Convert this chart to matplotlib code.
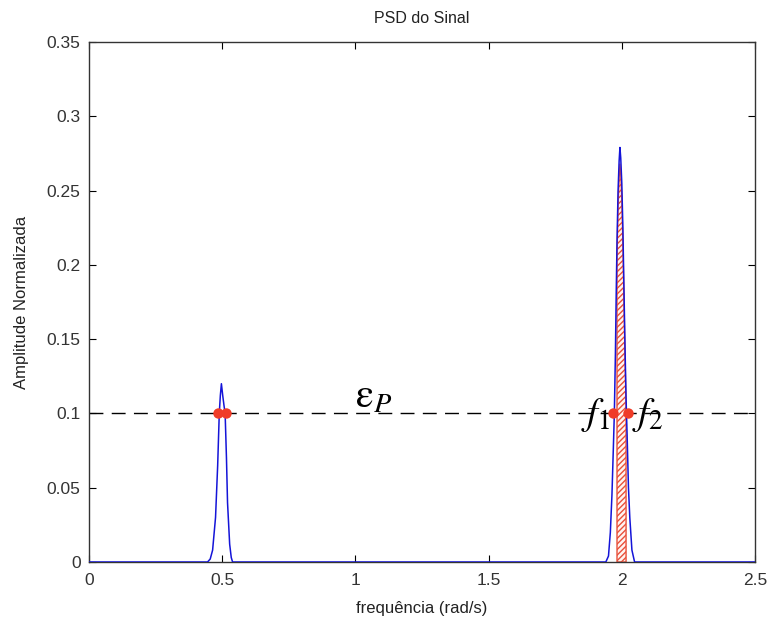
import matplotlib
matplotlib.use("Agg")
import matplotlib.pyplot as plt

plt.rcParams['font.family'] = ['Liberation Sans', 'DejaVu Sans']
plt.rcParams['mathtext.fontset'] = 'stix'
plt.rcParams['hatch.linewidth'] = 1.0

# PSD curve (frequency in rad/s, normalized amplitude)
freq = [0.0, 0.445, 0.455, 0.464, 0.475, 0.483, 0.489, 0.493, 0.497, 0.502,
        0.507, 0.511, 0.516, 0.520, 0.528, 0.534, 0.539,
        1.940, 1.950, 1.957, 1.963, 1.968, 1.972, 1.976, 1.979, 1.982, 1.986,
        1.990, 1.993, 1.996, 2.000, 2.004, 2.008, 2.012, 2.016, 2.020, 2.025,
        2.030, 2.038, 2.048, 2.5]
amp = [0.0, 0.0, 0.002, 0.008, 0.03, 0.065, 0.10, 0.112, 0.12, 0.112,
       0.105, 0.10, 0.07, 0.04, 0.012, 0.003, 0.0,
       0.0, 0.004, 0.02, 0.045, 0.075, 0.10, 0.14, 0.18, 0.215, 0.25,
       0.27, 0.279, 0.272, 0.255, 0.225, 0.185, 0.145, 0.11, 0.085, 0.05,
       0.03, 0.008, 0.0, 0.0]

# hatched band (integration region between f1 and f2)
band_lo, band_hi = 1.982, 2.016

threshold = 0.1
cross_x = [0.484, 0.513, 1.967, 2.025]

xticks = [0, 0.5, 1, 1.5, 2, 2.5]
xticklabels = ['0', '0.5', '1', '1.5', '2', '2.5']
yticks = [0, 0.05, 0.1, 0.15, 0.2, 0.25, 0.3, 0.35]
yticklabels = ['0', '0.05', '0.1', '0.15', '0.2', '0.25', '0.3', '0.35']

fig = plt.figure(figsize=(7.7, 6.17), dpi=100)
ax = fig.add_axes([89/770, 1-562/617, (755-89)/770, (562-42)/617])

bx = [f for f in freq if band_lo <= f <= band_hi]
by = [a for f, a in zip(freq, amp) if band_lo <= f <= band_hi]
ax.fill_between(bx, 0, [y * 0.96 for y in by], facecolor='#fff4f0',
                edgecolor='#e8503a', hatch='//////', linewidth=1.0, zorder=2)

ax.axhline(threshold, color='black', linestyle=(0, (10, 6)), linewidth=1.0, zorder=1)
ax.plot(freq, amp, color='#1414d8', linewidth=1.1, zorder=3)
ax.plot(cross_x, [threshold] * len(cross_x), 'o', color='#f03c28',
        markersize=7.5, markeredgewidth=0, zorder=4)

ax.text(1.0, 0.104, r'$\mathrm{\varepsilon}_{P}$', fontsize=29, ha='left', va='baseline', zorder=5)
ax.text(1.845, 0.093, r'$f_1$', fontsize=28, ha='left', va='baseline', zorder=5)
ax.text(2.04, 0.093, r'$f_2$', fontsize=28, ha='left', va='baseline', zorder=5)

ax.set_xlim(0, 2.5)
ax.set_ylim(0, 0.35)
ax.set_xticks(xticks)
ax.set_xticklabels(xticklabels)
ax.set_yticks(yticks)
ax.set_yticklabels(yticklabels)
ax.tick_params(direction='in', top=True, right=True, labelsize=12.5,
               labelcolor='#333333', length=5, width=0.8)
ax.tick_params(axis='x', pad=8)
ax.tick_params(axis='y', pad=6)
for s in ax.spines.values():
    s.set_linewidth(1.0)
    s.set_color('#333333')

ax.set_title('PSD do Sinal', fontsize=11.5, color='#222222', pad=14)
ax.set_xlabel('frequência (rad/s)', fontsize=12, color='#222222', labelpad=9)
ax.set_ylabel('Amplitude Normalizada', fontsize=12, color='#222222', labelpad=13)

fig.savefig('out.png', dpi=100, facecolor='white')
